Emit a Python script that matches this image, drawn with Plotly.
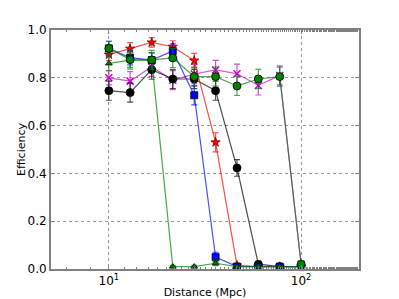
import plotly.graph_objects as go

distance = [10, 12.9, 16.7, 21.5, 27.8, 35.9, 46.4, 59.9, 77.4, 100]

eff_magenta = [0.80, 0.786, 0.846, 0.79, 0.816, 0.833, 0.817, 0.768, 0.81, 0.02]
err_magenta = [0.03, 0.04, 0.04, 0.04, 0.04, 0.04, 0.04, 0.04, 0.04, 0.01]

eff_black = [0.746, 0.738, 0.834, 0.795, 0.795, 0.746, 0.423, 0.02, 0.01, 0.01]
err_black = [0.04, 0.04, 0.04, 0.04, 0.04, 0.04, 0.035, 0.005, 0.003, 0.003]

eff_red = [0.897, 0.922, 0.948, 0.93, 0.872, 0.53, 0.015, 0.01, 0.01, 0.01]
err_red = [0.025, 0.025, 0.02, 0.025, 0.03, 0.04, 0.01, 0.005, 0.005, 0.005]

eff_blue = [0.923, 0.884, 0.874, 0.912, 0.727, 0.05, 0.01, 0.01, 0.01, 0.01]
err_blue = [0.03, 0.03, 0.03, 0.03, 0.04, 0.02, 0.005, 0.005, 0.005, 0.005]

eff_tri = [0.86, 0.874, 0.875, 0.01, 0.01, 0.024, 0.01, 0.01, 0.01, 0.01]
err_tri = [0.03, 0.03, 0.03, 0.005, 0.005, 0.01, 0.005, 0.005, 0.005, 0.005]

eff_green = [0.923, 0.876, 0.875, 0.883, 0.805, 0.805, 0.766, 0.795, 0.805, 0.02]
err_green = [0.03, 0.04, 0.04, 0.04, 0.04, 0.04, 0.04, 0.04, 0.04, 0.01]

series = [
    (eff_magenta, err_magenta, "rgba(200,0,200,0.7)", "x-thin", "#cc00cc", 7, None),
    (eff_black, err_black, "rgba(0,0,0,0.7)", "circle", "black", 8, "black"),
    (eff_red, err_red, "rgba(255,0,0,0.7)", "star", "red", 7, "#800000"),
    (eff_blue, err_blue, "rgba(0,0,255,0.7)", "square", "blue", 7, "black"),
    (eff_tri, err_tri, "rgba(0,128,0,0.7)", "triangle-up", "green", 6, "black"),
    (eff_green, err_green, "rgba(0,128,0,0.7)", "circle", "green", 8, "black"),
]

fig = go.Figure()
for y, e, lc, sym, mc, ms, edge in series:
    marker = dict(symbol=sym, size=ms, color=mc)
    if sym == "x-thin":
        marker["line"] = dict(color=mc, width=1.5)
    else:
        marker["line"] = dict(color=edge, width=0.8)
    fig.add_trace(go.Scatter(
        x=distance, y=y, mode="lines+markers",
        line=dict(color=lc, width=1.2),
        marker=marker,
        error_y=dict(type="data", array=e, visible=True, color=lc, thickness=1.2, width=3),
        showlegend=False,
    ))

axis_common = dict(
    showline=True, linecolor="#808080", linewidth=2, mirror="allticks",
    ticks="inside", tickcolor="#808080", ticklen=4,
    showgrid=True, gridcolor="#999999", griddash="dot", gridwidth=1,
    zeroline=False, automargin=False,
    tickfont=dict(family="DejaVu Sans", size=12, color="black"),
    title_font=dict(family="DejaVu Sans", size=11, color="black"),
)

fig.update_xaxes(
    type="log", range=[0.699, 2.301],
    tickvals=[10, 100], ticktext=["10<sup>1</sup>", "10<sup>2</sup>"],
    minor=dict(ticks="inside", ticklen=2, tickcolor="#808080", showgrid=False),
    title_text="Distance (Mpc)", title_standoff=2,
    **axis_common,
)
fig.update_yaxes(
    range=[0, 1.0], tickvals=[0, 0.2, 0.4, 0.6, 0.8, 1.0],
    ticktext=["0.0", "0.2", "0.4", "0.6", "0.8", "1.0"],
    title_text="Efficiency", title_standoff=0,
    **axis_common,
)

fig.update_layout(
    width=391, height=291,
    margin=dict(l=43, r=40, t=22, b=30),
    plot_bgcolor="white", paper_bgcolor="white",
    font=dict(family="DejaVu Sans"),
)

fig.write_html("out.html")
